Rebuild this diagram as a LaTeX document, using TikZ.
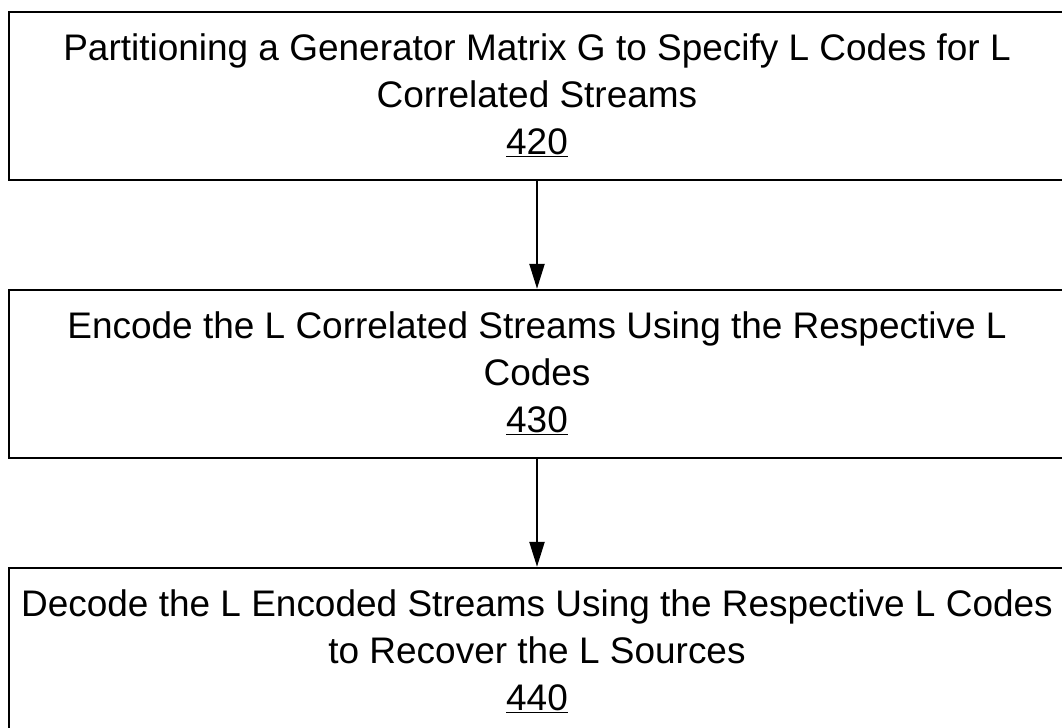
\documentclass[tikz,border=0pt]{standalone}
\usepackage{fontspec}
\setmainfont{Liberation Sans}
\usepackage{tikz}
\usetikzlibrary{shapes,arrows,arrows.meta,positioning,calc}

\begin{document}
\begin{tikzpicture}[node distance=6.95cm]
  \tikzstyle{process}=[rectangle, draw=black, line width=1.3pt, minimum width=26.4cm, minimum height=4.2cm, inner sep=0pt, font=\fontsize{26.3}{33.4}\selectfont, align=center]
  \tikzstyle{arrow}=[-{Triangle[length=0.62cm,width=0.38cm]}, line width=1pt]

  \clip (0,0) rectangle (26.55,-18.175);

  \node[process] (s1) at (13.425,-2.39) {Partitioning a Generator Matrix G to Specify L Codes for L\\Correlated Streams\\\underline{420}};
  \node[process, below of=s1] (s2) {Encode the L Correlated Streams Using the Respective L\\Codes\\\underline{430}};
  \node[process, below of=s2] (s3) {Decode the L Encoded Streams Using the Respective L Codes\\to Recover the L Sources\\\underline{440}};

  \draw[arrow] (s1) -- (s2);
  \draw[arrow] (s2) -- (s3);
\end{tikzpicture}
\end{document}
